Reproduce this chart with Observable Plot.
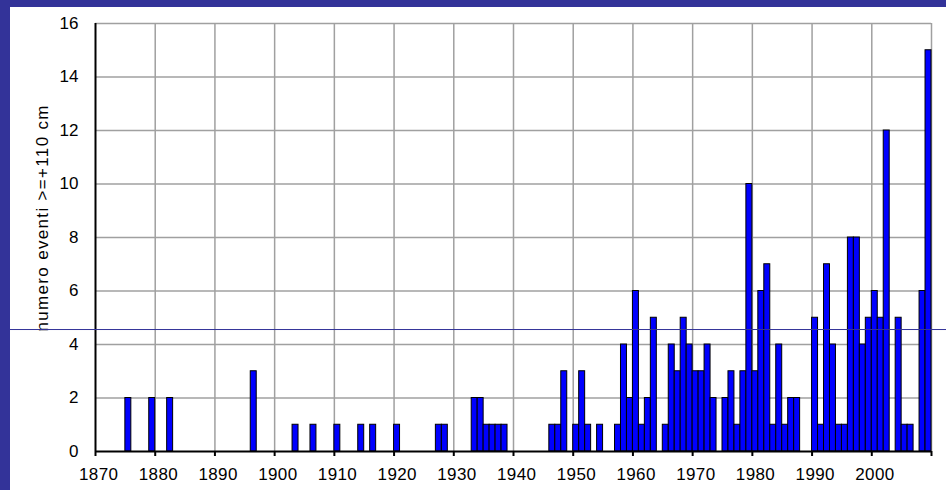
<!DOCTYPE html>
<html><head><meta charset="utf-8">
<script src="https://cdn.jsdelivr.net/npm/d3@7"></script>
<script src="https://cdn.jsdelivr.net/npm/@observablehq/plot@0.6"></script>
<style>
html,body{margin:0;padding:0;background:#ffffff;overflow:hidden;width:946px;height:490px;}
#frame{position:absolute;left:0;top:0;box-sizing:border-box;width:946px;height:490px;border-left:10px solid #333399;border-top:7px solid #333399;background:#ffffff;overflow:hidden;}
#frame svg{background:#ffffff;display:block;max-width:none;}
</style></head><body><div id="frame"></div>
<script>
// years with at least one event (all other years 1870-2009 have zero events)
const eventYears = [1875,1879,1882,1896,1903,1906,1910,1914,1916,1920,1927,1928,1933,1934,1935,1936,1937,1938,1946,1947,1948,1950,1951,1952,1954,1957,1958,1959,1960,1961,1962,1963,1965,1966,1967,1968,1969,1970,1971,1972,1973,1975,1976,1977,1978,1979,1980,1981,1982,1983,1984,1985,1986,1987,1990,1991,1992,1993,1994,1995,1996,1997,1998,1999,2000,2001,2002,2004,2005,2006,2008,2009];
const eventCounts = [2,2,2,3,1,1,1,1,1,1,1,1,2,2,1,1,1,1,1,1,3,1,3,1,1,1,4,2,6,1,2,5,1,4,3,5,4,3,3,4,2,2,3,1,3,10,3,6,7,1,4,1,2,2,5,1,7,4,1,1,8,8,4,5,6,5,12,5,1,1,6,15];
const xDomain = [1870, 2010];
const decadeTicks = [1870,1880,1890,1900,1910,1920,1930,1940,1950,1960,1970,1980,1990,2000,2010];
const decadeLabels = [1870,1880,1890,1900,1910,1920,1930,1940,1950,1960,1970,1980,1990,2000];
const xGridLines = [1880,1890,1900,1910,1920,1930,1940,1950,1960,1970,1980,1990,2000,2010];
const yTicks = [0,2,4,6,8,10,12,14,16];
const yGridLines = [2,4,6,8,10,12,14,16];
const thresholdLevel = [4.56];
const yTitle = ["numero eventi >=+110 cm"];

const data = eventYears.map((year, i) => ({year, count: eventCounts[i]}));

const chart = Plot.plot({
  width: 936, height: 483,
  marginLeft: 85, marginRight: 15, marginTop: 16, marginBottom: 39,
  style: {fontFamily: "'Liberation Sans', Arial, sans-serif", fontSize: "17px", color: "#000", background: "#fff"},
  x: {type: "linear", domain: xDomain},
  y: {domain: [0, 16]},
  marks: [
    Plot.ruleY(yGridLines, {stroke: "#a0a0a0", strokeWidth: 1.5}),
    Plot.ruleX(xGridLines, {stroke: "#a0a0a0", strokeWidth: 1.5}),
    Plot.rectY(data, {x1: "year", x2: d => d.year + 1, y: "count", fill: "#0000ff", stroke: "#000", strokeWidth: 1}),
    Plot.axisY(yTicks, {tickSize: 0, tickPadding: 17, label: null, fontSize: 17}),
    Plot.axisX(decadeTicks, {tickSize: 5, tickFormat: () => "", strokeWidth: 2, label: null}),
    Plot.ruleY([0], {stroke: "#000", strokeWidth: 2}),
    Plot.ruleX([1870], {stroke: "#000", strokeWidth: 2}),
    Plot.text(decadeLabels, {x: d => d + 0.5, text: d => String(d), frameAnchor: "bottom", dy: 28, fontSize: 17}),
    Plot.text(yTitle, {text: d => d, frameAnchor: "left", textAnchor: "middle", rotate: -90, dx: -53, dy: -19, fontSize: 17}),
    Plot.ruleY(thresholdLevel, {stroke: "#333399", strokeWidth: 1, insetLeft: -85, insetRight: -15})
  ]
});
// stretch lettering like the original (fixed text length, spacing only)
d3.select(chart).selectAll("text")
  .filter(function() { return this.textContent === yTitle[0]; })
  .attr("textLength", 226).attr("lengthAdjust", "spacing");
d3.select(chart).selectAll("g[aria-label='text'] text")
  .filter(function() { return decadeLabels.map(String).includes(this.textContent); })
  .attr("textLength", 39).attr("lengthAdjust", "spacing");
document.getElementById("frame").appendChild(chart);
</script>
</body></html>
